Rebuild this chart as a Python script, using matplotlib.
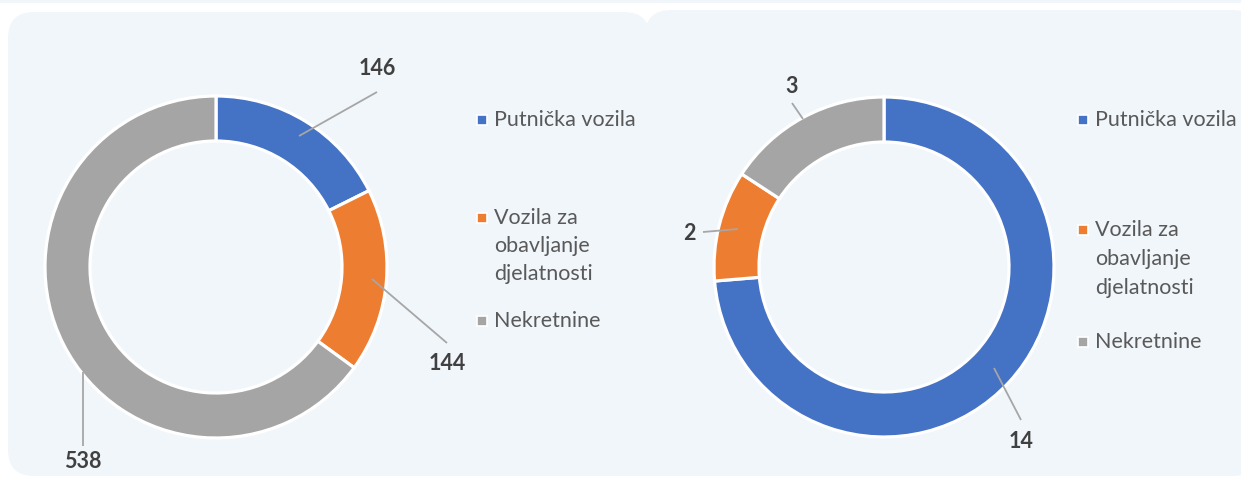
import numpy as np
import matplotlib
matplotlib.use("Agg")
import matplotlib.pyplot as plt
from matplotlib.patches import FancyBboxPatch, Rectangle

W, H = 1241, 479

categories = ["Putnička vozila", "Vozila za obavljanje djelatnosti", "Nekretnine"]
legend_lines = [["Putnička vozila"], ["Vozila za", "obavljanje", "djelatnosti"], ["Nekretnine"]]
left_values = [146, 144, 538]
right_values = [14, 2, 3]
colors = ["#4472C4", "#ED7D31", "#A5A5A5"]

panel_bg = "#F1F6FB"
legend_color = "#595959"
label_color = "#404040"

plt.rcParams["font.family"] = ["Lato", "DejaVu Sans"]

fig = plt.figure(figsize=(W / 100, H / 100), dpi=100)
fig.patch.set_facecolor("white")
ax = fig.add_axes([0, 0, 1, 1])


def py(y):
    # image pixel row -> data y
    return H - y


# thin strip on top + the two rounded panels (joined at the bottom)
ax.add_patch(Rectangle((0, py(3)), W, 3, facecolor=panel_bg, edgecolor="none"))
ax.add_patch(FancyBboxPatch((8, py(476)), 642, 464, boxstyle="round,pad=0,rounding_size=26",
                            facecolor=panel_bg, edgecolor="none"))
ax.add_patch(FancyBboxPatch((645, py(476)), 614, 466, boxstyle="round,pad=0,rounding_size=26",
                            facecolor=panel_bg, edgecolor="none"))
ax.add_patch(Rectangle((600, py(476)), 100, 300, facecolor=panel_bg, edgecolor="none"))

# donuts: (values, centre, outer radius, ring width)
donuts = [
    (left_values, (216, 267), 171, 45),
    (right_values, (884, 267), 170, 45),
]

# label layout per donut: (label position, leader start, leader end) in image pixels
label_layout = [
    [((377, 68), (299, 136), (377, 92)),
     ((447, 363), (372, 279), (447, 343)),
     ((83, 462), (83, 372), (83, 446))],
    [((1021, 441), (994, 368), (1021, 420)),
     ((689, 233), (738, 229), (703, 232)),
     ((792, 86), (803, 119), (792, 103))],
]

for (vals, (cx, cy), r, w), layout in zip(donuts, label_layout):
    ax.pie(vals, colors=colors, startangle=90, counterclock=False,
           radius=r, center=(cx, py(cy)),
           wedgeprops=dict(width=w, edgecolor="white", linewidth=2.3))
    for v, (lab, p0, p1) in zip(vals, layout):
        ax.plot([p0[0], p1[0]], [py(p0[1]), py(p1[1])], color="#A6A6A6", lw=1.3,
                solid_capstyle="butt")
        ax.text(lab[0], py(lab[1]), str(v), ha="center", va="center",
                fontsize=15.5, fontweight="bold", color=label_color)

# legends drawn by hand to match the spacing of the original
legend_pos = [
    (482, [120, 218, 321], 28),
    (1083, [120, 230, 342], 29),
]
for lx, ys, step in legend_pos:
    for col, lines, y0 in zip(colors, legend_lines, ys):
        ax.add_patch(Rectangle((lx - 5, py(y0) - 5), 10, 10, facecolor=col,
                               edgecolor="white", lw=1.2))
        for i, line in enumerate(lines):
            ax.text(lx + 12, py(y0 + i * step), line, ha="left", va="center",
                    fontsize=15.5, color=legend_color)

ax.set_xlim(0, W)
ax.set_ylim(0, H)
ax.set_aspect("auto")
ax.axis("off")

fig.savefig("out.png", dpi=100, facecolor="white")
